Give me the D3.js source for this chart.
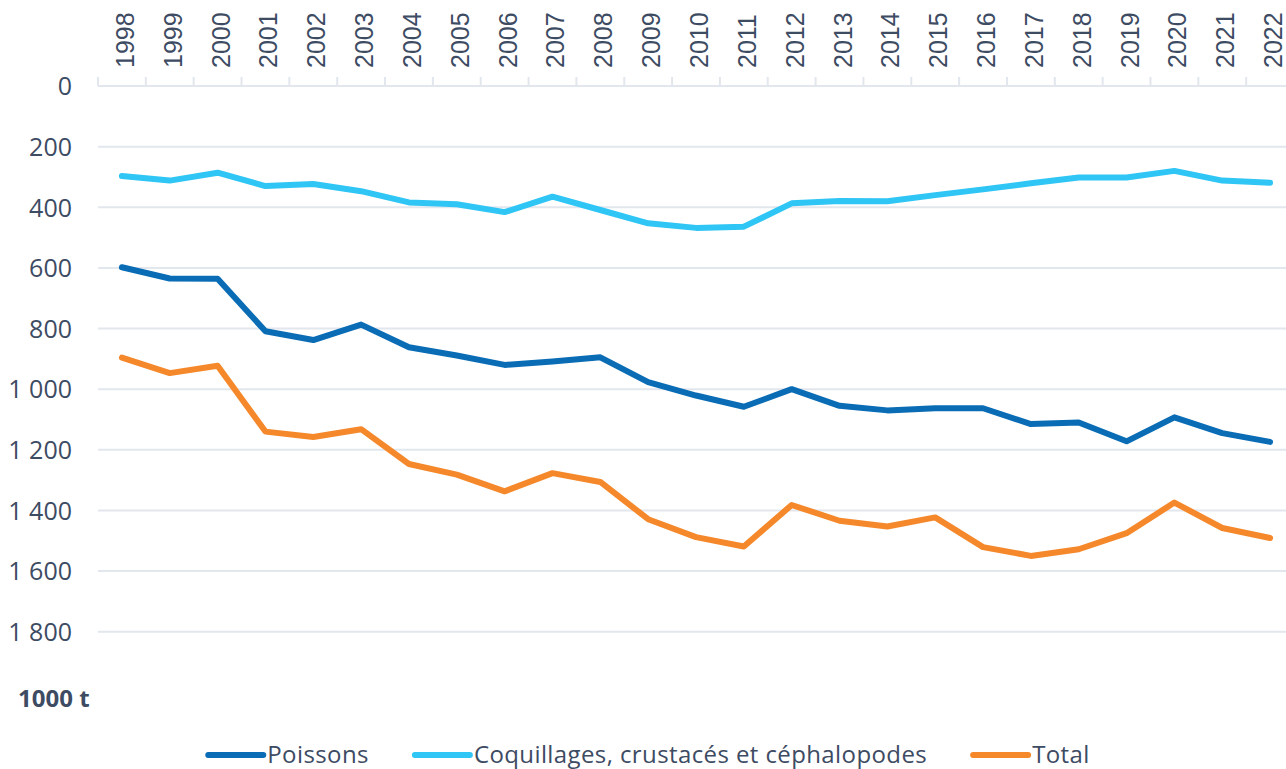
<!DOCTYPE html>
<html>
<head>
<meta charset="utf-8">
<script src="https://cdn.jsdelivr.net/npm/d3@7"></script>
<style>
  body { margin: 0; background: #fff; }
  svg { display: block; }
</style>
</head>
<body>
<div id="chart"></div>
<script>
// data (thousand tonnes)
var years = ["1998","1999","2000","2001","2002","2003","2004","2005","2006","2007","2008","2009","2010",
             "2011","2012","2013","2014","2015","2016","2017","2018","2019","2020","2021","2022"];
var poissons = [598,635,636,809,838,787,862,889,920,909,895,977,1021,1058,1000,1055,1070,1063,1063,1115,1110,1172,1093,1145,1174];
var coquillages = [297,312,286,330,323,347,384,390,416,365,409,453,468,464,387,379,380,360,341,321,302,302,280,312,319];
var total = [896,947,923,1140,1158,1132,1247,1282,1337,1277,1306,1429,1488,1519,1382,1434,1453,1423,1521,1550,1528,1475,1374,1458,1491];
var seriesNames = ["Poissons", "Coquillages, crustacés et céphalopodes", "Total"];
var yTicks = [0, 200, 400, 600, 800, 1000, 1200, 1400, 1600, 1800];
var unitLabel = "1000 t";

var W = 1286, H = 769;
var textColor = "#3d4b63";
var gridColor = "#e2e6ed";
var colors = ["#0a6cb5", "#2fc5f4", "#f5882a"];

var svg = d3.select("#chart").append("svg")
  .attr("width", W)
  .attr("height", H);

var x = d3.scaleBand()
  .domain(years)
  .range([98, 1294]);

var y = d3.scaleLinear()
  .domain([0, 1800])
  .range([86, 631.7]);

var fr = d3.formatLocale({decimal: ",", thousands: " ", grouping: [3], currency: ["", " €"]});
var fmt = fr.format(",d");

// gridlines
svg.append("g")
  .selectAll("line")
  .data(yTicks)
  .enter()
  .append("line")
    .attr("x1", 98)
    .attr("x2", W)
    .attr("y1", function(d){ return y(d) })
    .attr("y2", function(d){ return y(d) })
    .attr("stroke", gridColor)
    .attr("stroke-width", 2);

// y axis labels
var yAxis = svg.append("g")
  .attr("transform", "translate(72,0)")
  .call(d3.axisLeft(y).tickValues(yTicks).tickSize(0).tickPadding(0).tickFormat(fmt));
yAxis.attr("font-size", 25).attr("font-family", "'Open Sans', sans-serif");
yAxis.select(".domain").remove();
yAxis.selectAll("text")
  .attr("fill", textColor)
  .attr("dy", "0.35em");

// x axis ticks at band boundaries (pointing up)
svg.append("g")
  .selectAll("line")
  .data(years.concat(["end"]))
  .enter()
  .append("line")
    .attr("x1", function(d){ return d == "end" ? x.range()[1] : x(d) })
    .attr("x2", function(d){ return d == "end" ? x.range()[1] : x(d) })
    .attr("y1", 77)
    .attr("y2", 86)
    .attr("stroke", gridColor)
    .attr("stroke-width", 2);

// year labels, rotated
svg.append("g")
  .selectAll("text")
  .data(years)
  .enter()
  .append("text")
    .attr("transform", function(d){ return "translate(" + (x(d) + x.bandwidth() / 2) + ",68) rotate(-90)" })
    .attr("x", 0)
    .attr("y", 12)
    .attr("text-anchor", "start")
    .style("font-family", "'Liberation Sans', Arial, sans-serif")
    .style("font-size", "25px")
    .attr("fill", textColor)
    .text(function(d){ return d });

// lines
var dataReady = [poissons, coquillages, total].map(function(vals, i) {
  return {
    name: seriesNames[i],
    color: colors[i],
    values: vals.map(function(v, j){ return {year: years[j], value: v} })
  };
});

var line = d3.line()
  .x(function(d){ return x(d.year) + x.bandwidth() / 2 })
  .y(function(d){ return y(d.value) });

svg.append("g")
  .selectAll("path")
  .data(dataReady)
  .enter()
  .append("path")
    .attr("d", function(d){ return line(d.values) })
    .attr("stroke", function(d){ return d.color })
    .attr("stroke-width", 6)
    .attr("stroke-linejoin", "round")
    .attr("stroke-linecap", "round")
    .attr("fill", "none");

// unit label
svg.append("text")
  .attr("x", 18)
  .attr("y", 707)
  .style("font-family", "'Open Sans', sans-serif")
  .style("font-size", "24px")
  .style("font-weight", "bold")
  .attr("fill", textColor)
  .text(unitLabel);

// legend
var legend = svg.append("g");
var items = legend.selectAll("g")
  .data(dataReady)
  .enter()
  .append("g");
items.append("line")
  .attr("x1", 0)
  .attr("x2", 55)
  .attr("y1", 0)
  .attr("y2", 0)
  .attr("stroke", function(d){ return d.color })
  .attr("stroke-width", 6)
  .attr("stroke-linecap", "round");
items.append("text")
  .attr("x", 59)
  .attr("y", 8)
  .style("font-family", "'Open Sans', sans-serif")
  .style("font-size", "24px")
  .style("letter-spacing", "0.4px")
  .attr("fill", textColor)
  .text(function(d){ return d.name });

var offset = 0;
var widths = [];
items.each(function() {
  widths.push(this.getBBox().width);
});
var gap = 46;
var totalW = d3.sum(widths) + gap * (widths.length - 1);
var startX = 649 - totalW / 2;
items.attr("transform", function(d, i) {
  var tx = startX + offset;
  offset += widths[i] + gap;
  return "translate(" + tx + ",755)";
});
</script>
</body>
</html>
